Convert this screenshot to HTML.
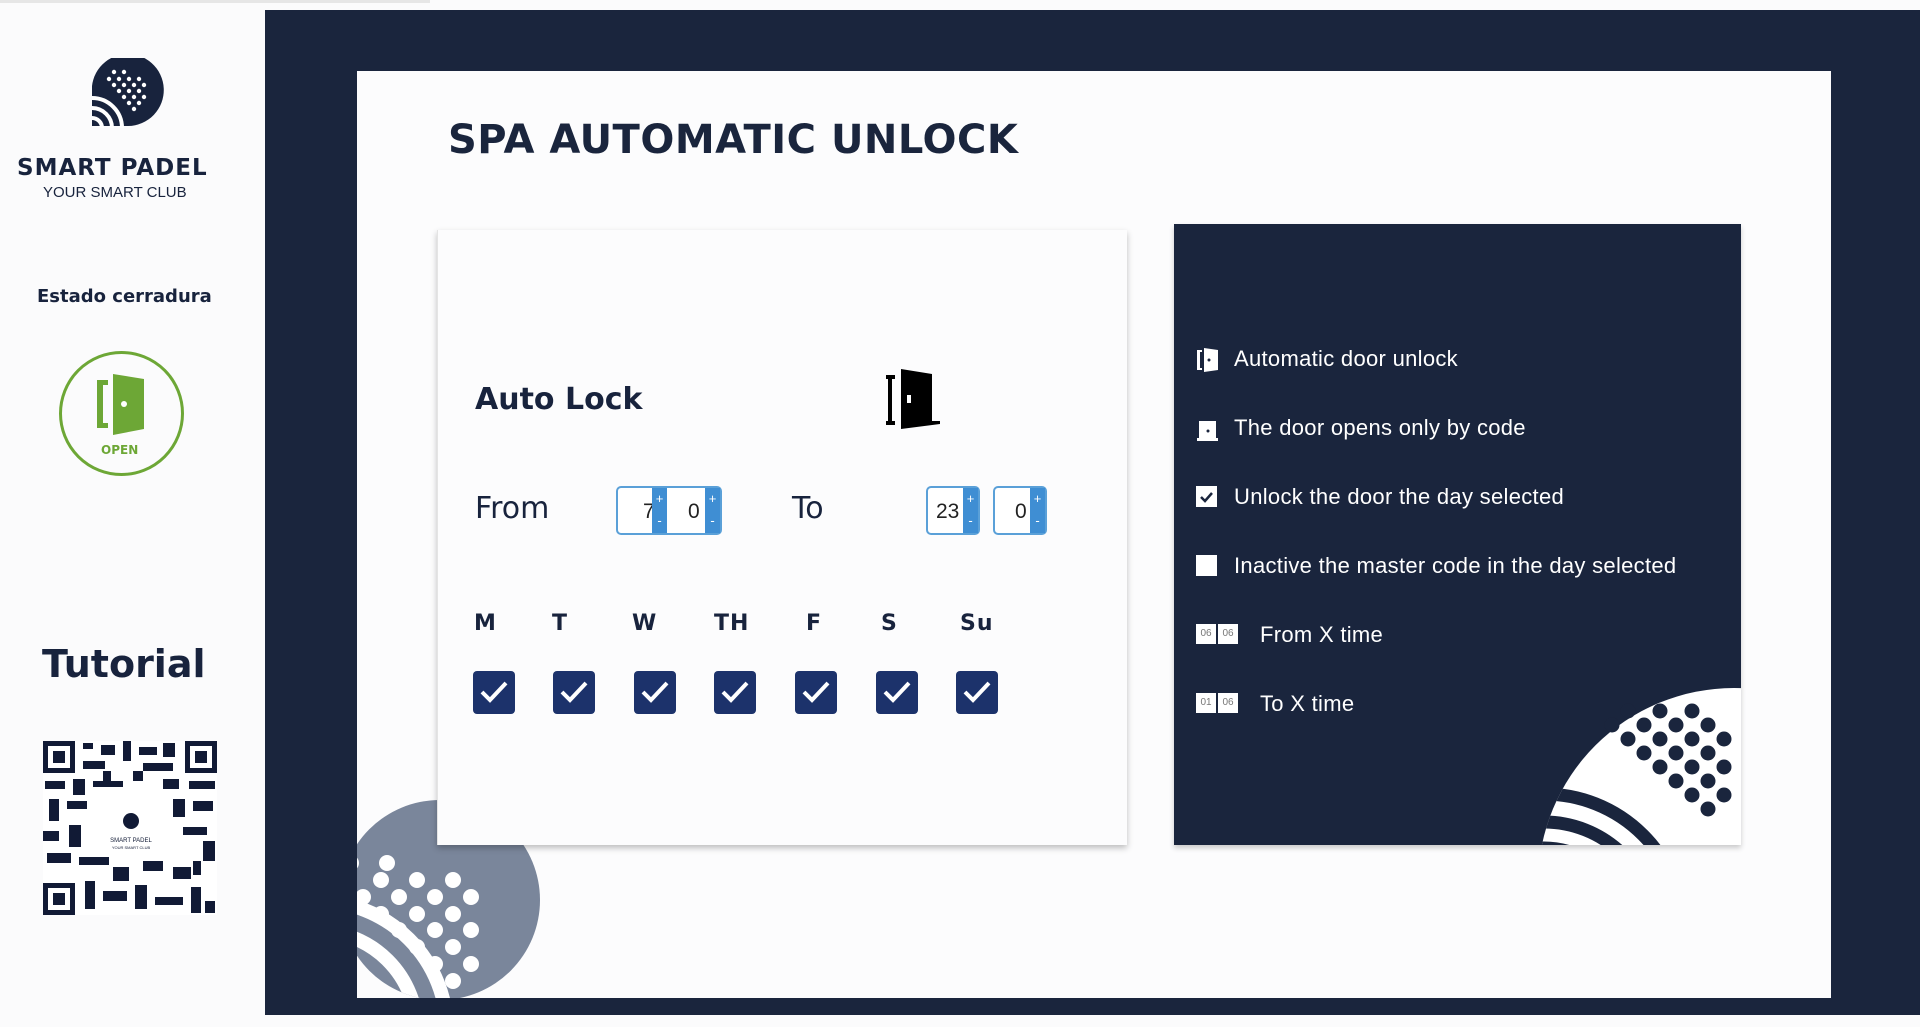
<!DOCTYPE html>
<html><head><meta charset="utf-8"><style>
*{margin:0;padding:0;box-sizing:border-box}
html,body{width:1920px;height:1027px;overflow:hidden}
body{background:#fbfbfc;position:relative;font-family:"Liberation Sans",sans-serif;color:#18233d}
.a{position:absolute}
.t{font-family:"DejaVu Sans","Liberation Sans",sans-serif}
.cb{position:absolute;width:42px;height:43px;background:#1c326b;border-radius:4px;top:671px}
.cb svg{position:absolute;left:6px;top:8px}
.day{position:absolute;top:611px;font-weight:bold;font-size:22px;letter-spacing:1px}
.sp{position:absolute;top:486px;height:49px;border:2px solid #5aa0d8;border-radius:5px;background:#fff}
.spb{position:absolute;right:0;top:0;width:15px;height:100%;background:#3f8ed3;color:#fff;font-size:13px;text-align:center;line-height:22px}
.num{position:absolute;top:12px;font-size:21px;color:#222}
.li{position:absolute;left:1234px;color:#fff;font-size:22px;letter-spacing:0.3px}
</style></head><body>
<div class="a" style="left:0;top:0;width:430px;height:3px;background:#e6e6e6"></div>
<div class="a" style="left:265px;top:10px;width:1655px;height:1005px;background:#1a253d"></div>
<div class="a" style="left:357px;top:71px;width:1474px;height:927px;background:#fcfcfd;overflow:hidden">
  <svg class="a" style="left:0;top:0" width="300" height="927">
    <defs><clipPath id="c1"><circle cx="83" cy="829" r="100"/></clipPath></defs>
    <circle cx="83" cy="829" r="100" fill="#7a869b"/>
    <g fill="#fff">
      <circle cx="-6" cy="792" r="8"/><circle cx="30" cy="792" r="8"/>
      <circle cx="-12" cy="809" r="8"/><circle cx="24" cy="809" r="8"/><circle cx="60" cy="809" r="8"/><circle cx="96" cy="809" r="8"/>
      <circle cx="6" cy="826" r="8"/><circle cx="42" cy="826" r="8"/><circle cx="78" cy="826" r="8"/><circle cx="114" cy="826" r="8"/>
      <circle cx="24" cy="843" r="8"/><circle cx="60" cy="843" r="8"/><circle cx="96" cy="843" r="8"/>
      <circle cx="42" cy="859" r="8"/><circle cx="78" cy="859" r="8"/><circle cx="114" cy="859" r="8"/>
      <circle cx="60" cy="876" r="8"/><circle cx="96" cy="876" r="8"/>
      <circle cx="78" cy="893" r="8"/><circle cx="114" cy="893" r="8"/>
      <circle cx="96" cy="910" r="8"/>
    </g>
    <g fill="none" stroke="#fff" stroke-width="14" clip-path="url(#c1)">
      <circle cx="-40" cy="960" r="130"/><circle cx="-40" cy="960" r="100"/><circle cx="-40" cy="960" r="72"/>
    </g>
  </svg>
  <div class="a t" style="left:91px;top:46px;font-size:40px;font-weight:bold;letter-spacing:0.5px;color:#1a253d">SPA AUTOMATIC UNLOCK</div>
</div>
<div class="a" style="left:437px;top:230px;width:690px;height:615px;background:#fcfcfd;box-shadow:0 3px 6px rgba(0,0,0,.25);border-left:1px solid #e4e4e4"></div>
<div class="a t" style="left:475px;top:382px;font-size:30px;font-weight:bold">Auto Lock</div>
<svg class="a" style="left:886px;top:369px" width="58" height="62"><rect x="2" y="6" width="4" height="50" fill="#000"/><rect x="0" y="6" width="9" height="4" fill="#000"/><rect x="0" y="52" width="9" height="4" fill="#000"/><polygon points="15,0 46,5 46,52 54,52 54,55 15,60" fill="#000"/><rect x="21" y="26" width="4" height="8" fill="#fff"/></svg>
<div class="a t" style="left:475px;top:491px;font-size:30px">From</div>
<div class="sp" style="left:616px;width:106px"><div class="num" style="left:25px">7</div><div class="spb" style="right:53px">+<br>-</div><div class="num" style="left:70px">0</div><div class="spb">+<br>-</div></div>
<div class="a t" style="left:792px;top:491px;font-size:30px">To</div>
<div class="sp" style="left:926px;width:54px"><div class="num" style="left:8px">23</div><div class="spb">+<br>-</div></div>
<div class="sp" style="left:993px;width:54px"><div class="num" style="left:20px">0</div><div class="spb">+<br>-</div></div>
<div class="day t" style="left:474px">M</div><div class="day t" style="left:552px">T</div><div class="day t" style="left:632px">W</div><div class="day t" style="left:714px">TH</div><div class="day t" style="left:806px">F</div><div class="day t" style="left:881px">S</div><div class="day t" style="left:960px">Su</div>
<div class="cb" style="left:473px"><svg width="30" height="26"><path d="M3 13 L11 21 L27 4" stroke="#fff" stroke-width="4" fill="none"/></svg></div>
<div class="cb" style="left:553px"><svg width="30" height="26"><path d="M3 13 L11 21 L27 4" stroke="#fff" stroke-width="4" fill="none"/></svg></div>
<div class="cb" style="left:634px"><svg width="30" height="26"><path d="M3 13 L11 21 L27 4" stroke="#fff" stroke-width="4" fill="none"/></svg></div>
<div class="cb" style="left:714px"><svg width="30" height="26"><path d="M3 13 L11 21 L27 4" stroke="#fff" stroke-width="4" fill="none"/></svg></div>
<div class="cb" style="left:795px"><svg width="30" height="26"><path d="M3 13 L11 21 L27 4" stroke="#fff" stroke-width="4" fill="none"/></svg></div>
<div class="cb" style="left:876px"><svg width="30" height="26"><path d="M3 13 L11 21 L27 4" stroke="#fff" stroke-width="4" fill="none"/></svg></div>
<div class="cb" style="left:956px"><svg width="30" height="26"><path d="M3 13 L11 21 L27 4" stroke="#fff" stroke-width="4" fill="none"/></svg></div>
<div class="a" style="left:1174px;top:224px;width:567px;height:621px;background:#1a253d;overflow:hidden;box-shadow:0 3px 5px rgba(0,0,0,.2)">
  <svg class="a" style="left:360px;top:460px" width="207" height="161">
    <defs><clipPath id="c2"><circle cx="200" cy="200" r="196"/></clipPath></defs>
    <circle cx="200" cy="200" r="196" fill="#fff"/>
    <g fill="#1a253d">
      <circle cx="94" cy="27" r="7.5"/><circle cx="126" cy="27" r="7.5"/><circle cx="158" cy="27" r="7.5"/>
      <circle cx="78" cy="41" r="7.5"/><circle cx="110" cy="41" r="7.5"/><circle cx="142" cy="41" r="7.5"/><circle cx="174" cy="41" r="7.5"/>
      <circle cx="94" cy="55" r="7.5"/><circle cx="126" cy="55" r="7.5"/><circle cx="158" cy="55" r="7.5"/><circle cx="190" cy="55" r="7.5"/>
      <circle cx="110" cy="69" r="7.5"/><circle cx="142" cy="69" r="7.5"/><circle cx="174" cy="69" r="7.5"/>
      <circle cx="126" cy="83" r="7.5"/><circle cx="158" cy="83" r="7.5"/><circle cx="190" cy="83" r="7.5"/>
      <circle cx="142" cy="97" r="7.5"/><circle cx="174" cy="97" r="7.5"/>
      <circle cx="158" cy="111" r="7.5"/><circle cx="190" cy="111" r="7.5"/>
      <circle cx="174" cy="125" r="7.5"/>
    </g>
    <g fill="none" stroke="#1a253d" stroke-width="13" clip-path="url(#c2)">
      <circle cx="10" cy="250" r="140"/><circle cx="10" cy="250" r="112"/><circle cx="10" cy="250" r="86"/>
    </g>
  </svg>
</div>
<svg class="a" style="left:1196px;top:346px" width="24" height="28"><rect x="1" y="4" width="3" height="20" fill="#fff"/><rect x="1" y="4" width="5" height="2" fill="#fff"/><rect x="1" y="22" width="5" height="2" fill="#fff"/><polygon points="8,2 22,4 22,24 8,26" fill="#fff"/><circle cx="13" cy="14" r="1.5" fill="#1a253d"/></svg>
<div class="li" style="top:346px">Automatic door unlock</div>
<svg class="a" style="left:1196px;top:417px" width="24" height="26"><rect x="3" y="4" width="17" height="18" fill="#fff"/><rect x="1" y="21" width="21" height="3" fill="#fff"/><circle cx="12" cy="14" r="1.5" fill="#1a253d"/></svg>
<div class="li" style="top:415px">The door opens only by code</div>
<div class="a" style="left:1196px;top:486px;width:21px;height:21px;background:#fff"><svg width="21" height="21"><path d="M5 11 L9 15 L16 7" stroke="#1a253d" stroke-width="2.5" fill="none"/></svg></div>
<div class="li" style="top:484px">Unlock the door the day selected</div>
<div class="a" style="left:1196px;top:555px;width:21px;height:21px;background:#fff"></div>
<div class="li" style="top:553px">Inactive the master code in the day selected</div>
<div class="a" style="left:1196px;top:624px;width:20px;height:20px;background:#fff;font-size:10px;color:#777;text-align:center;line-height:20px">06</div>
<div class="a" style="left:1218px;top:624px;width:20px;height:20px;background:#fff;font-size:10px;color:#777;text-align:center;line-height:20px">06</div>
<div class="li" style="left:1260px;top:622px">From X time</div>
<div class="a" style="left:1196px;top:693px;width:20px;height:20px;background:#fff;font-size:10px;color:#777;text-align:center;line-height:20px">01</div>
<div class="a" style="left:1218px;top:693px;width:20px;height:20px;background:#fff;font-size:10px;color:#777;text-align:center;line-height:20px">06</div>
<div class="li" style="left:1260px;top:691px">To X time</div>
<svg class="a" style="left:92px;top:58px" width="76" height="70">
  <path d="M0 68 L0 36 A36 36 0 1 1 36 68 Z" fill="#18233d"/>
  <g fill="#fff"><circle cx="22" cy="14" r="2.2"/><circle cx="32" cy="14" r="2.2"/><circle cx="17" cy="21" r="2.2"/><circle cx="27" cy="21" r="2.2"/><circle cx="37" cy="21" r="2.2"/><circle cx="47" cy="21" r="2.2"/><circle cx="22" cy="27" r="2.2"/><circle cx="32" cy="27" r="2.2"/><circle cx="42" cy="27" r="2.2"/><circle cx="52" cy="27" r="2.2"/><circle cx="27" cy="33" r="2.2"/><circle cx="37" cy="33" r="2.2"/><circle cx="47" cy="33" r="2.2"/><circle cx="32" cy="39" r="2.2"/><circle cx="42" cy="39" r="2.2"/><circle cx="52" cy="39" r="2.2"/><circle cx="37" cy="45" r="2.2"/><circle cx="47" cy="45" r="2.2"/><circle cx="42" cy="51" r="2.2"/></g>
  <g fill="none" stroke="#fff" stroke-width="4"><path d="M0 40 A30 30 0 0 1 30 70"/><path d="M0 50 A20 20 0 0 1 20 70"/><path d="M0 60 A10 10 0 0 1 10 70"/></g>
</svg>
<div class="a t" style="left:17px;top:155px;font-size:23px;font-weight:bold;letter-spacing:1px;color:#18233d">SMART PADEL</div>
<div class="a" style="left:43px;top:184px;font-size:15px;color:#18233d">YOUR SMART CLUB</div>
<div class="a t" style="left:37px;top:286px;font-size:18px;font-weight:bold">Estado cerradura</div>
<div class="a" style="left:59px;top:351px;width:125px;height:125px;border:3px solid #6da736;border-radius:50%"></div>
<svg class="a" style="left:97px;top:374px" width="50" height="64"><rect x="0" y="6" width="6" height="48" fill="#6da736"/><rect x="0" y="6" width="11" height="5" fill="#6da736"/><rect x="0" y="49" width="11" height="5" fill="#6da736"/><polygon points="16,0 47,5 47,55 16,61" fill="#6da736"/><circle cx="27" cy="30" r="3" fill="#fff"/></svg>
<div class="a t" style="left:101px;top:443px;font-size:12px;font-weight:bold;color:#6da736">OPEN</div>
<div class="a t" style="left:42px;top:642px;font-size:38px;font-weight:bold">Tutorial</div>
<svg class="a" style="left:43px;top:741px" width="174" height="174">
  <rect width="174" height="174" fill="#fff"/>
  <g fill="#111a35">
  <rect x="0" y="0" width="32" height="32"/><rect x="142" y="0" width="32" height="32"/><rect x="0" y="142" width="32" height="32"/>
  </g>
  <g fill="#fff"><rect x="5" y="5" width="22" height="22"/><rect x="147" y="5" width="22" height="22"/><rect x="5" y="147" width="22" height="22"/></g>
  <g fill="#111a35"><rect x="10" y="10" width="12" height="12"/><rect x="152" y="10" width="12" height="12"/><rect x="10" y="152" width="12" height="12"/>
  <rect x="40" y="2" width="10" height="6"/><rect x="58" y="4" width="14" height="10"/><rect x="80" y="0" width="8" height="20"/><rect x="96" y="6" width="18" height="8"/><rect x="120" y="2" width="12" height="14"/>
  <rect x="40" y="20" width="22" height="8"/><rect x="100" y="22" width="30" height="8"/>
  <rect x="2" y="40" width="20" height="8"/><rect x="30" y="38" width="12" height="16"/><rect x="50" y="40" width="30" height="6"/><rect x="120" y="38" width="16" height="10"/><rect x="146" y="40" width="26" height="8"/>
  <rect x="6" y="58" width="10" height="22"/><rect x="24" y="60" width="20" height="8"/><rect x="130" y="58" width="12" height="18"/><rect x="150" y="60" width="20" height="10"/>
  <rect x="0" y="90" width="16" height="10"/><rect x="26" y="84" width="12" height="22"/><rect x="140" y="86" width="24" height="8"/><rect x="160" y="100" width="12" height="20"/>
  <rect x="4" y="112" width="24" height="10"/><rect x="36" y="116" width="30" height="8"/><rect x="70" y="126" width="16" height="14"/><rect x="100" y="120" width="20" height="10"/><rect x="130" y="126" width="18" height="12"/>
  <rect x="42" y="140" width="10" height="28"/><rect x="60" y="150" width="24" height="10"/><rect x="92" y="144" width="12" height="24"/><rect x="112" y="156" width="28" height="8"/><rect x="148" y="146" width="10" height="26"/><rect x="162" y="160" width="10" height="12"/>
  <rect x="60" y="30" width="8" height="14"/><rect x="90" y="30" width="10" height="10"/><rect x="150" y="120" width="8" height="14"/></g>
  <rect x="54" y="60" width="68" height="56" fill="#fff"/>
  <circle cx="88" cy="80" r="8" fill="#111a35"/>
  <text x="88" y="101" font-size="6" text-anchor="middle" fill="#111a35" font-family="Liberation Sans">SMART PADEL</text>
  <text x="88" y="108" font-size="4" text-anchor="middle" fill="#111a35" font-family="Liberation Sans">YOUR SMART CLUB</text>
</svg>
</body></html>
